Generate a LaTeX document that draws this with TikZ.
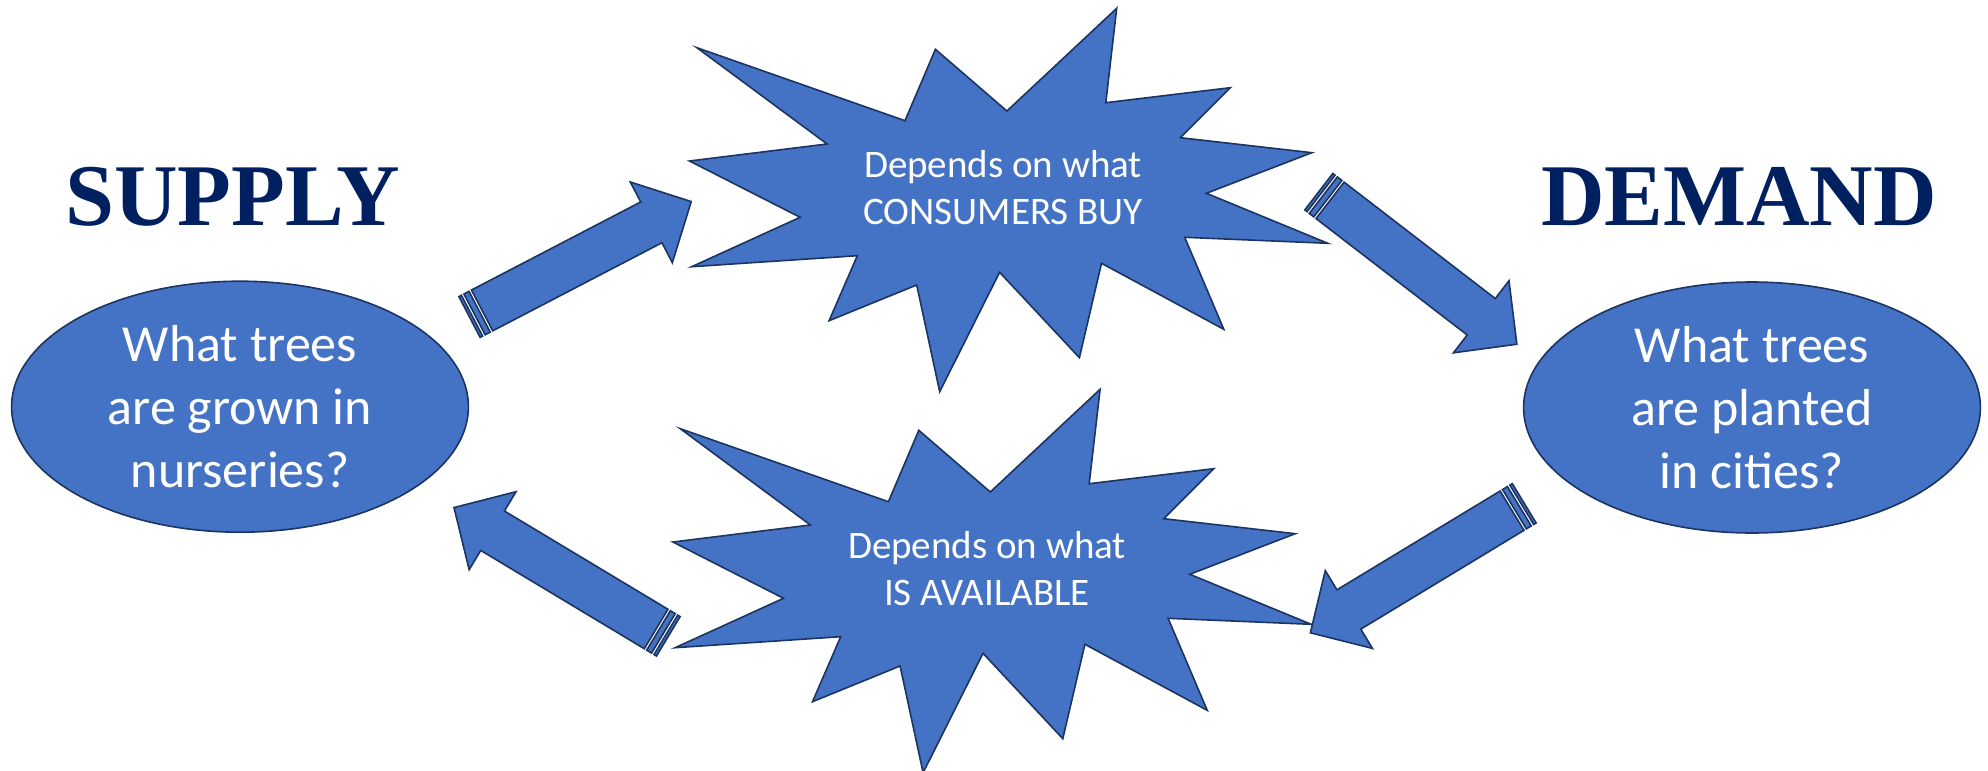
\documentclass[tikz,border=0pt]{standalone}
\usepackage{fontspec}
\setmainfont{Carlito}
\newfontfamily\titlefont{Liberation Serif}
\usetikzlibrary{shapes.geometric}
\definecolor{fillblue}{HTML}{4472C4}
\definecolor{edgeblue}{HTML}{1C3461}
\definecolor{titleblue}{HTML}{002060}
\tikzset{
  shapefill/.style={fill=fillblue, draw=edgeblue, line width=0.8pt, line join=miter},
  bubble/.style={ellipse, shapefill, minimum width=228.4pt, minimum height=125.5pt,
    inner sep=0pt, align=center, text=white, font=\fontsize{26}{31.65}\selectfont},
  startext/.style={align=center, text=white, inner sep=0pt,
    font=\fontsize{19.5}{23.7}\selectfont},
  titletext/.style={anchor=base, text=titleblue, inner sep=0pt,
    font=\titlefont\bfseries\fontsize{44}{50}\selectfont},
}
\newcommand{\stripedarrowshape}[3]{%
  \begin{scope}[shift={(#1,#2)}, rotate=#3]
    \draw[shapefill] (0,-23) rectangle (2.84,23);
    \draw[shapefill] (5.69,-23) rectangle (11.4,23);
    \draw[shapefill] (14.2,-23) -- (205,-23) -- (205,-45.5) -- (250,0)
      -- (205,45.5) -- (205,23) -- (14.2,23) -- cycle;
  \end{scope}}
\newcommand{\starburstpath}{%
  (696.9,47.7) -- (905.0,120.7) -- (935.4,49.3) -- (1006.9,111.0)
  -- (1116.7,8.3) -- (1105.8,102.7) -- (1230.3,87.7) -- (1180.4,137.7)
  -- (1311.8,152.7) -- (1206.4,193.3) -- (1327.8,243.3) -- (1184.7,237.3)
  -- (1223.8,329.3) -- (1101.5,263.3) -- (1079.4,357.7) -- (999.6,272.3)
  -- (939.7,391.7) -- (916.7,285.0) -- (829.1,320.7) -- (857.3,255.7)
  -- (691.7,266.7) -- (800.1,217.3) -- (689.5,161.0) -- (827.0,144.0) -- cycle}
\begin{document}
\begin{tikzpicture}[x=0.5pt, y=-0.5pt]
  \useasboundingbox (0,0) rectangle (1988,771);
  % starbursts
  \draw[shapefill] \starburstpath;
  \draw[shapefill, shift={(-16.6,381)}] \starburstpath;
  \node[startext] (buytext) at (1003,187.5) {Depends on what\\CONSUMERS BUY};
  \node[startext] (availtext) at (987,568.5) {Depends on what\\IS AVAILABLE};
  % ellipses
  \node[bubble] (supply) at (240,406.7) {What trees\\are grown in\\nurseries?};
  \node[bubble] (demand) at (1752,407.5) {What trees\\are planted\\in cities?};
  % titles
  \node[titletext] (supplytitle) at (232.5,225) {SUPPLY};
  \node[titletext] (demandtitle) at (1739,225) {DEMAND};
  % block arrows
  \stripedarrowshape{469.5}{317}{27.5}
  \stripedarrowshape{1318.8}{191.7}{-37.6}
  \stripedarrowshape{668.3}{636.3}{149}
  \stripedarrowshape{1524.2}{503.3}{211.2}
\end{tikzpicture}
\end{document}
